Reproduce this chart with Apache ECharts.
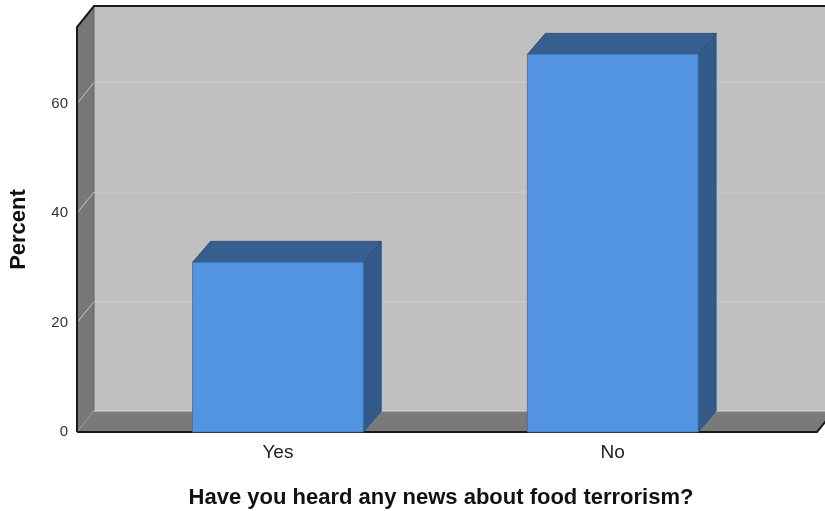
<!DOCTYPE html>
<html>
<head>
<meta charset="utf-8">
<style>html,body{margin:0;padding:0;background:#fff}#c{width:825px;height:511px}</style>
<script src="https://cdn.jsdelivr.net/npm/echarts@6/dist/echarts.min.js"></script>
</head>
<body>
<div id="c"></div>
<script>
const categories = ['Yes', 'No'];
const percentValues = [31, 69];
const yTicks = [0, 20, 40, 60];
const yMax = 74;
const xTitle = 'Have you heard any news about food terrorism?';
const yTitle = 'Percent';

const FONT = "'Liberation Sans', Arial, sans-serif";
const DX = 17, DY = -21;      // wall depth
const BDX = 18, BDY = -21;    // bar depth
const HALF = 0.255;           // half bar width in category units

const chart = echarts.init(document.getElementById('c'), null, {renderer: 'canvas'});

function wallsRender(params, api) {
  const cs = params.coordSys;
  const xl = cs.x, xr = cs.x + cs.width;
  const yTop = api.coord([0, yMax])[1];
  const y0 = api.coord([0, 0])[1];
  const ch = [];
  ch.push({type: 'polygon', shape: {points: [[xl + DX, yTop + DY], [xr + DX + 30, yTop + DY], [xr + DX + 30, y0 + DY], [xl + DX, y0 + DY]]},
    style: {fill: '#c0c0c0'}});
  yTicks.forEach(t => {
    const y = api.coord([0, t])[1];
    if (t > 0) {
      ch.push({type: 'line', shape: {x1: xl + DX, y1: y + DY, x2: xr + DX + 30, y2: y + DY}, style: {stroke: '#cfcfcf', lineWidth: 1}});
    }
  });
  ch.push({type: 'polygon', shape: {points: [[xl, yTop], [xl + DX, yTop + DY], [xl + DX, y0 + DY], [xl, y0]]},
    style: {fill: '#777777', stroke: '#555', lineWidth: 0.8}});
  yTicks.forEach(t => {
    const y = api.coord([0, t])[1];
    ch.push({type: 'line', shape: {x1: xl, y1: y, x2: xl + DX, y2: y + DY}, style: {stroke: '#c8c8c8', lineWidth: 1}});
  });
  ch.push({type: 'polygon', shape: {points: [[xl, y0], [xl + DX, y0 + DY], [xr + DX, y0 + DY], [xr, y0]]},
    style: {fill: '#7a7a7a'}});
  ch.push({type: 'line', shape: {x1: xl + DX, y1: y0 + DY, x2: xr + DX + 30, y2: y0 + DY}, style: {stroke: '#d8d8d8', lineWidth: 1.2}});
  ch.push({type: 'polyline', shape: {points: [[xl, y0], [xl, yTop], [xl + DX, yTop + DY], [xr + DX + 30, yTop + DY]]},
    style: {stroke: '#1a1a1a', lineWidth: 2, fill: null}});
  ch.push({type: 'polyline', shape: {points: [[xl, y0], [xr, y0], [xr + DX, y0 + DY]]},
    style: {stroke: '#1a1a1a', lineWidth: 2, fill: null}});
  return {type: 'group', children: ch};
}

function barsRender(params, api) {
  const i = api.value(0), v = api.value(1);
  const pTL = api.coord([i - HALF, v]);
  const pBR = api.coord([i + HALF, 0]);
  const xl = pTL[0], yt = pTL[1], xr = pBR[0], yb = pBR[1];
  return {type: 'group', children: [
    {type: 'polygon', shape: {points: [[xr, yt], [xr + BDX, yt + BDY], [xr + BDX, yb + BDY], [xr, yb]]},
      style: {fill: '#335a89', stroke: '#2b4d77', lineWidth: 0.8}},
    {type: 'polygon', shape: {points: [[xl, yt], [xl + BDX, yt + BDY], [xr + BDX, yt + BDY], [xr, yt]]},
      style: {fill: '#365e8f', stroke: '#2b4d77', lineWidth: 0.8}},
    {type: 'rect', shape: {x: xl, y: yt, width: xr - xl, height: yb - yt},
      style: {fill: '#5294e2', stroke: '#3d6fa8', lineWidth: 0.8}}
  ]};
}

chart.setOption({
  animation: false,
  backgroundColor: '#ffffff',
  title: {
    text: xTitle, left: 436, top: 482, textAlign: 'center',
    textStyle: {fontFamily: FONT, fontSize: 22, fontWeight: 'bold', color: '#111'}
  },
  grid: {left: 76, right: 8, top: 27, bottom: 79, containLabel: false},
  xAxis: {
    type: 'value', min: -0.6, max: 1.61,
    axisLine: {show: false}, axisTick: {show: false}, splitLine: {show: false},
    axisLabel: {
      customValues: categories.map((c, i) => i),
      formatter: v => categories[Math.round(v)],
      fontFamily: FONT, fontSize: 19, color: '#222', margin: 11
    }
  },
  yAxis: {
    type: 'value', min: 0, max: yMax, interval: 20,
    name: yTitle, nameLocation: 'middle', nameRotate: 90, nameGap: 47,
    nameTextStyle: {fontFamily: FONT, fontSize: 22, fontWeight: 'bold', color: '#111'},
    axisLine: {show: false}, axisTick: {show: false}, splitLine: {show: false},
    axisLabel: {customValues: yTicks, fontFamily: FONT, fontSize: 15, color: '#333', margin: 9}
  },
  series: [
    {type: 'custom', name: 'walls', renderItem: wallsRender, data: [[0, 0]], z: 1, silent: true, clip: false},
    {type: 'custom', name: 'Percent', renderItem: barsRender, data: categories.map((c, i) => [i, percentValues[i]]), z: 3, clip: false}
  ]
});
</script>
</body>
</html>
